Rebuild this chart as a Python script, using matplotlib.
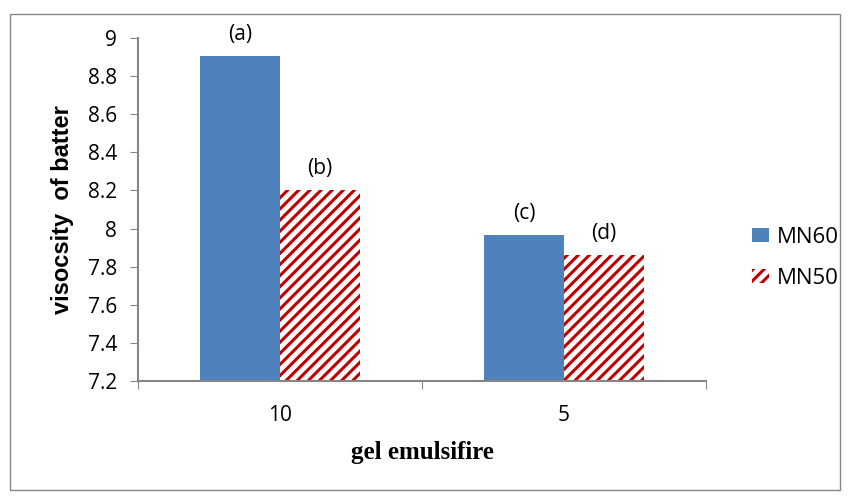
import matplotlib
matplotlib.use("Agg")
import matplotlib.pyplot as plt
from matplotlib.patches import Rectangle
import numpy as np

categories = ["10", "5"]
mn60 = [8.905, 7.965]
mn50 = [8.203, 7.86]
letters60 = ["(a)", "(c)"]
letters50 = ["(b)", "(d)"]
series_names = ["MN60", "MN50"]
yticks = [7.2, 7.4, 7.6, 7.8, 8.0, 8.2, 8.4, 8.6, 8.8, 9.0]
ytick_labels = ["7.2", "7.4", "7.6", "7.8", "8", "8.2", "8.4", "8.6", "8.8", "9"]

plt.rcParams['hatch.linewidth'] = 2.2
plt.rcParams['hatch.color'] = '#C00000'
sans = ['Open Sans', 'DejaVu Sans']

fig = plt.figure(figsize=(8.51, 5.04), dpi=100)
fig.patches.append(Rectangle((10/851, 14/504), 830/851, 476/504, transform=fig.transFigure,
                             fill=False, edgecolor='#868686', linewidth=1.0))
ax = fig.add_axes([138/851, 1-381/504, (706-138)/851, (381-38)/504])

x = np.arange(len(categories))
w = 0.282
b1 = ax.bar(x - w/2, mn60, w, color='#4F81BD', edgecolor='#4F81BD', linewidth=0, label=series_names[0])
b2 = ax.bar(x + w/2, mn50, w, color='white', edgecolor='#C00000', hatch='///', linewidth=0, label=series_names[1])

for i in range(len(categories)):
    ax.annotate(letters60[i], (x[i] - w/2, mn60[i]), xytext=(0, 8), textcoords='offset points',
                ha='center', va='bottom', fontsize=15, family=sans)
    ax.annotate(letters50[i], (x[i] + w/2, mn50[i]), xytext=(0, 8), textcoords='offset points',
                ha='center', va='bottom', fontsize=15, family=sans)

ax.set_xlim(-0.5, 1.5)
ax.set_ylim(7.2, 9.0)
ax.set_yticks(yticks)
ax.set_yticklabels(ytick_labels, family=sans, fontsize=15)
ax.set_xticks([-0.5, 0.5, 1.5])
ax.set_xticklabels([])
ax.set_xticks(x, minor=True)
ax.set_xticklabels(categories, minor=True, family=sans, fontsize=15)
ax.tick_params(axis='x', which='minor', length=0, pad=17)
ax.tick_params(axis='x', which='major', length=6, color='#868686', direction='out')
ax.tick_params(axis='y', length=6, color='#868686', direction='out', pad=9)
for s in ['top', 'right']:
    ax.spines[s].set_visible(False)
for s in ['left', 'bottom']:
    ax.spines[s].set_color('#868686')
    ax.spines[s].set_linewidth(1.5)

ax.set_ylabel("visocsity  of batter", fontsize=17, fontweight='bold',
              family=['Liberation Sans', 'DejaVu Sans'])
ax.yaxis.set_label_coords((74 - 138) / 568, 0.5)
ax.set_xlabel("gel emulsifire", fontsize=18, fontweight='bold', family=['Liberation Serif'])
ax.xaxis.set_label_coords(0.5, (381 - 441) / 343)

leg = fig.legend(handles=[b1, b2], labels=series_names, loc='center left',
                 bbox_to_anchor=(752/851, 1-258/504), frameon=False, borderpad=0, borderaxespad=0,
                 prop={'family': sans, 'size': 16}, handlelength=0.75, handleheight=0.6,
                 handletextpad=0.35, labelspacing=0.9)

fig.savefig("out.png", dpi=100)
